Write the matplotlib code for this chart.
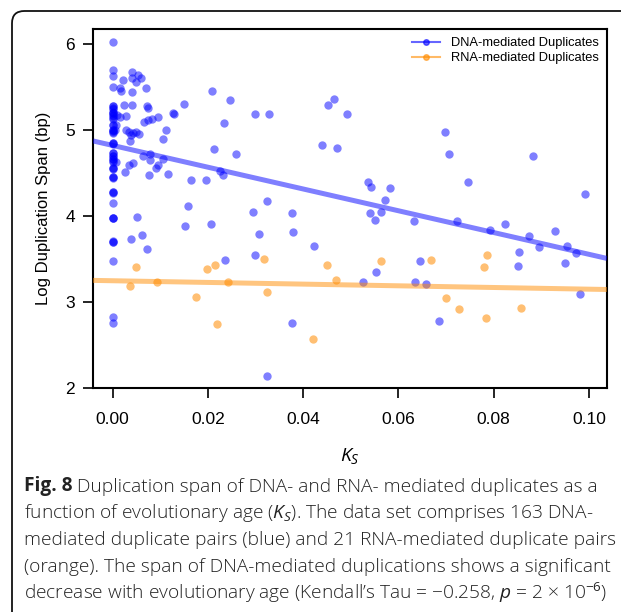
import matplotlib
matplotlib.use("Agg")
import matplotlib.pyplot as plt
from matplotlib.patches import FancyBboxPatch
import numpy as np

plt.rcParams['font.family'] = ['Liberation Sans', 'DejaVu Sans']
plt.rcParams['mathtext.fontset'] = 'custom'
plt.rcParams['mathtext.rm'] = 'Open Sans'
plt.rcParams['mathtext.it'] = 'Open Sans:italic'

# DNA-mediated duplicates (Ks, log span); many pairs sit at Ks = 0
dna_ks0 = [6.02, 5.69, 5.62, 5.50, 5.28, 5.24, 5.20, 5.17, 5.13, 5.05, 5.00, 4.97,
           4.85, 4.73, 4.69, 4.66, 4.63, 4.55, 4.45, 4.28, 4.15, 3.98, 3.70, 3.47,
           2.83, 2.76,
           5.27, 5.25, 5.21, 5.19, 5.16, 5.14, 5.00, 4.99, 4.96, 4.85, 4.84, 4.73,
           4.70, 4.66, 4.64, 4.55, 4.54, 4.45, 4.44, 4.28, 4.27, 3.98, 3.97, 3.70,
           3.71, 5.05]
dna_x = [0.0010, 0.0015, 0.0028, 0.0025, 0.0041, 0.0022, 0.0015, 0.0017, 0.0041, 0.0040,
         0.0053, 0.0059, 0.0050, 0.0071, 0.0041, 0.0073, 0.0075, 0.0095, 0.0082, 0.0074,
         0.0066, 0.0127, 0.0129, 0.0150, 0.0113, 0.0105, 0.0008, 0.0005, 0.0028, 0.0035,
         0.0038, 0.0043, 0.0049, 0.0055, 0.0036, 0.0008, 0.0026, 0.0035, 0.0042, 0.0063,
         0.0078, 0.0078, 0.0077, 0.0091, 0.0096, 0.0105, 0.0116, 0.0164, 0.0208, 0.0246,
         0.0233, 0.0214, 0.0259, 0.0225, 0.0232, 0.0197, 0.0158, 0.0152, 0.0207, 0.0052,
         0.0038, 0.0061, 0.0073, 0.0237, 0.0294, 0.0308, 0.0298, 0.0324, 0.0300, 0.0328,
         0.0324, 0.0377, 0.0379, 0.0376, 0.0423, 0.0440, 0.0452, 0.0464, 0.0493, 0.0472,
         0.0536, 0.0543, 0.0583, 0.0571, 0.0540, 0.0564, 0.0550, 0.0632, 0.0526, 0.0554,
         0.0634, 0.0657, 0.0646, 0.0686, 0.0697, 0.0707, 0.0747, 0.0883, 0.0992, 0.0724,
         0.0793, 0.0824, 0.0875, 0.0896, 0.0929, 0.0955, 0.0973, 0.0853, 0.0851, 0.0950,
         0.0982]
dna_y = [5.17, 5.15, 5.16, 5.29, 5.29, 5.58, 5.48, 5.45, 5.67, 5.60,
         5.64, 5.60, 5.55, 5.48, 5.44, 5.27, 5.25, 5.15, 5.12, 5.11,
         5.09, 5.20, 5.18, 5.30, 5.00, 4.89, 5.06, 5.00, 5.00, 4.97,
         4.94, 4.96, 4.97, 4.95, 4.87, 4.63, 4.51, 4.59, 4.61, 4.70,
         4.72, 4.65, 4.48, 4.55, 4.59, 4.66, 4.49, 4.42, 5.45, 5.34,
         5.08, 4.78, 4.72, 4.52, 4.47, 4.42, 4.11, 3.88, 3.90, 3.99,
         3.73, 3.78, 3.61, 3.49, 4.04, 3.79, 3.54, 4.17, 5.18, 5.18,
         2.14, 4.03, 3.81, 2.76, 3.65, 4.82, 5.29, 5.36, 5.18, 4.79,
         4.39, 4.34, 4.32, 4.18, 4.03, 4.04, 3.95, 3.94, 3.23, 3.35,
         3.23, 3.21, 3.47, 2.78, 4.97, 4.72, 4.39, 4.69, 4.25, 3.94,
         3.84, 3.90, 3.76, 3.64, 3.82, 3.65, 3.57, 3.58, 3.42, 3.45,
         3.09]

# RNA-mediated duplicates
rna_x = [0.0050, 0.0036, 0.0094, 0.0175, 0.0219, 0.0198, 0.0216, 0.0242, 0.0318, 0.0324,
         0.0421, 0.0451, 0.0469, 0.0563, 0.0668, 0.0699, 0.0728, 0.0783, 0.0780, 0.0785,
         0.0857]
rna_y = [3.40, 3.19, 3.23, 3.06, 2.74, 3.38, 3.43, 3.23, 3.50, 3.11,
         2.57, 3.43, 3.25, 3.47, 3.49, 3.04, 2.92, 2.81, 3.40, 3.54,
         2.93]

# fitted lines: slope, intercept
dna_fit = [-12.65, 4.818]
rna_fit = [-0.98, 3.246]

blue = 'blue'
orange = 'darkorange'

fig = plt.figure(figsize=(6.21, 6.12), dpi=100)
ax = fig.add_axes([0.1498, 0.366, 0.8277, 0.5866])

xs = [0.0] * len(dna_ks0) + dna_x
ys = dna_ks0 + dna_y
ax.scatter(xs, ys, s=36, color=blue, alpha=0.5, linewidths=0, zorder=2)
ax.scatter(rna_x, rna_y, s=36, color=orange, alpha=0.55, linewidths=0, zorder=2)

xlim = (-0.0041, 0.1038)
xx = np.array(xlim)
ax.plot(xx, dna_fit[0] * xx + dna_fit[1], color=blue, alpha=0.5, lw=3.6,
        solid_capstyle='butt', zorder=3)
ax.plot(xx, rna_fit[0] * xx + rna_fit[1], color=orange, alpha=0.5, lw=3.6,
        solid_capstyle='butt', zorder=3)

# legend handles
ax.plot([], [], color=blue, alpha=0.6, lw=1.5, marker='o', ms=4,
        label='DNA-mediated Duplicates')
ax.plot([], [], color=orange, alpha=0.6, lw=1.5, marker='o', ms=4,
        label='RNA-mediated Duplicates')
ax.legend(loc='upper right', frameon=False, fontsize=9.3, handlelength=2.2,
          handletextpad=0.8, labelspacing=0.2, borderaxespad=0.25)

ax.set_xlim(*xlim)
ax.set_ylim(2.0, 6.17)
ax.set_xticks([0.0, 0.02, 0.04, 0.06, 0.08, 0.10])
ax.set_xticklabels(['0.00', '0.02', '0.04', '0.06', '0.08', '0.10'])
ax.set_yticks([2, 3, 4, 5, 6])
ax.set_yticklabels(['2', '3', '4', '5', '6'])
ax.tick_params(axis='both', direction='out', length=7, width=1.2, labelsize=12.5)
ax.tick_params(axis='x', pad=10)
ax.tick_params(axis='y', pad=6)
for lab in ax.get_xticklabels() + ax.get_yticklabels():
    lab.set_fontfamily('Liberation Sans')
for sp in ax.spines.values():
    sp.set_linewidth(1.5)

ax.set_ylabel('Log Duplication Span (bp)', fontsize=12, labelpad=10)
ax.set_xlabel(r'$K_S$', fontsize=14, labelpad=14)

# caption
cap_font = 'Open Sans'
cap_size = 13.75
cap_col = '#222222'
x0 = 24 / 621
line_y = [0.197, 0.153, 0.109, 0.065, 0.021]
t = fig.text(x0, line_y[0], 'Fig. 8', fontsize=cap_size, family=cap_font,
             fontweight='bold', va='baseline', color=cap_col)
ax.annotate(' Duplication span of DNA- and RNA- mediated duplicates as a',
            xy=(1, 0), xycoords=t, fontsize=cap_size, family=cap_font,
            fontweight='light', va='bottom', annotation_clip=False, color=cap_col)
rest = [r'function of evolutionary age ($K_S$). The data set comprises 163 DNA-',
        'mediated duplicate pairs (blue) and 21 RNA-mediated duplicate pairs',
        '(orange). The span of DNA-mediated duplications shows a significant',
        r'decrease with evolutionary age (Kendall’s Tau = −0.258, $p$ = 2 × 10$^{−6}$)']
for yy, line in zip(line_y[1:], rest):
    fig.text(x0, yy, line, fontsize=cap_size, family=cap_font, va='baseline',
             fontweight='light', color=cap_col)

# rounded frame
box = FancyBboxPatch((12 / 621, -0.05), 1.2, 1.05 - 11 / 612,
                     boxstyle='round,pad=0,rounding_size=0.02',
                     transform=fig.transFigure, fill=False, lw=1.3,
                     edgecolor='#111111', clip_on=False)
fig.patches.append(box)

fig.savefig('out.png', dpi=100)
